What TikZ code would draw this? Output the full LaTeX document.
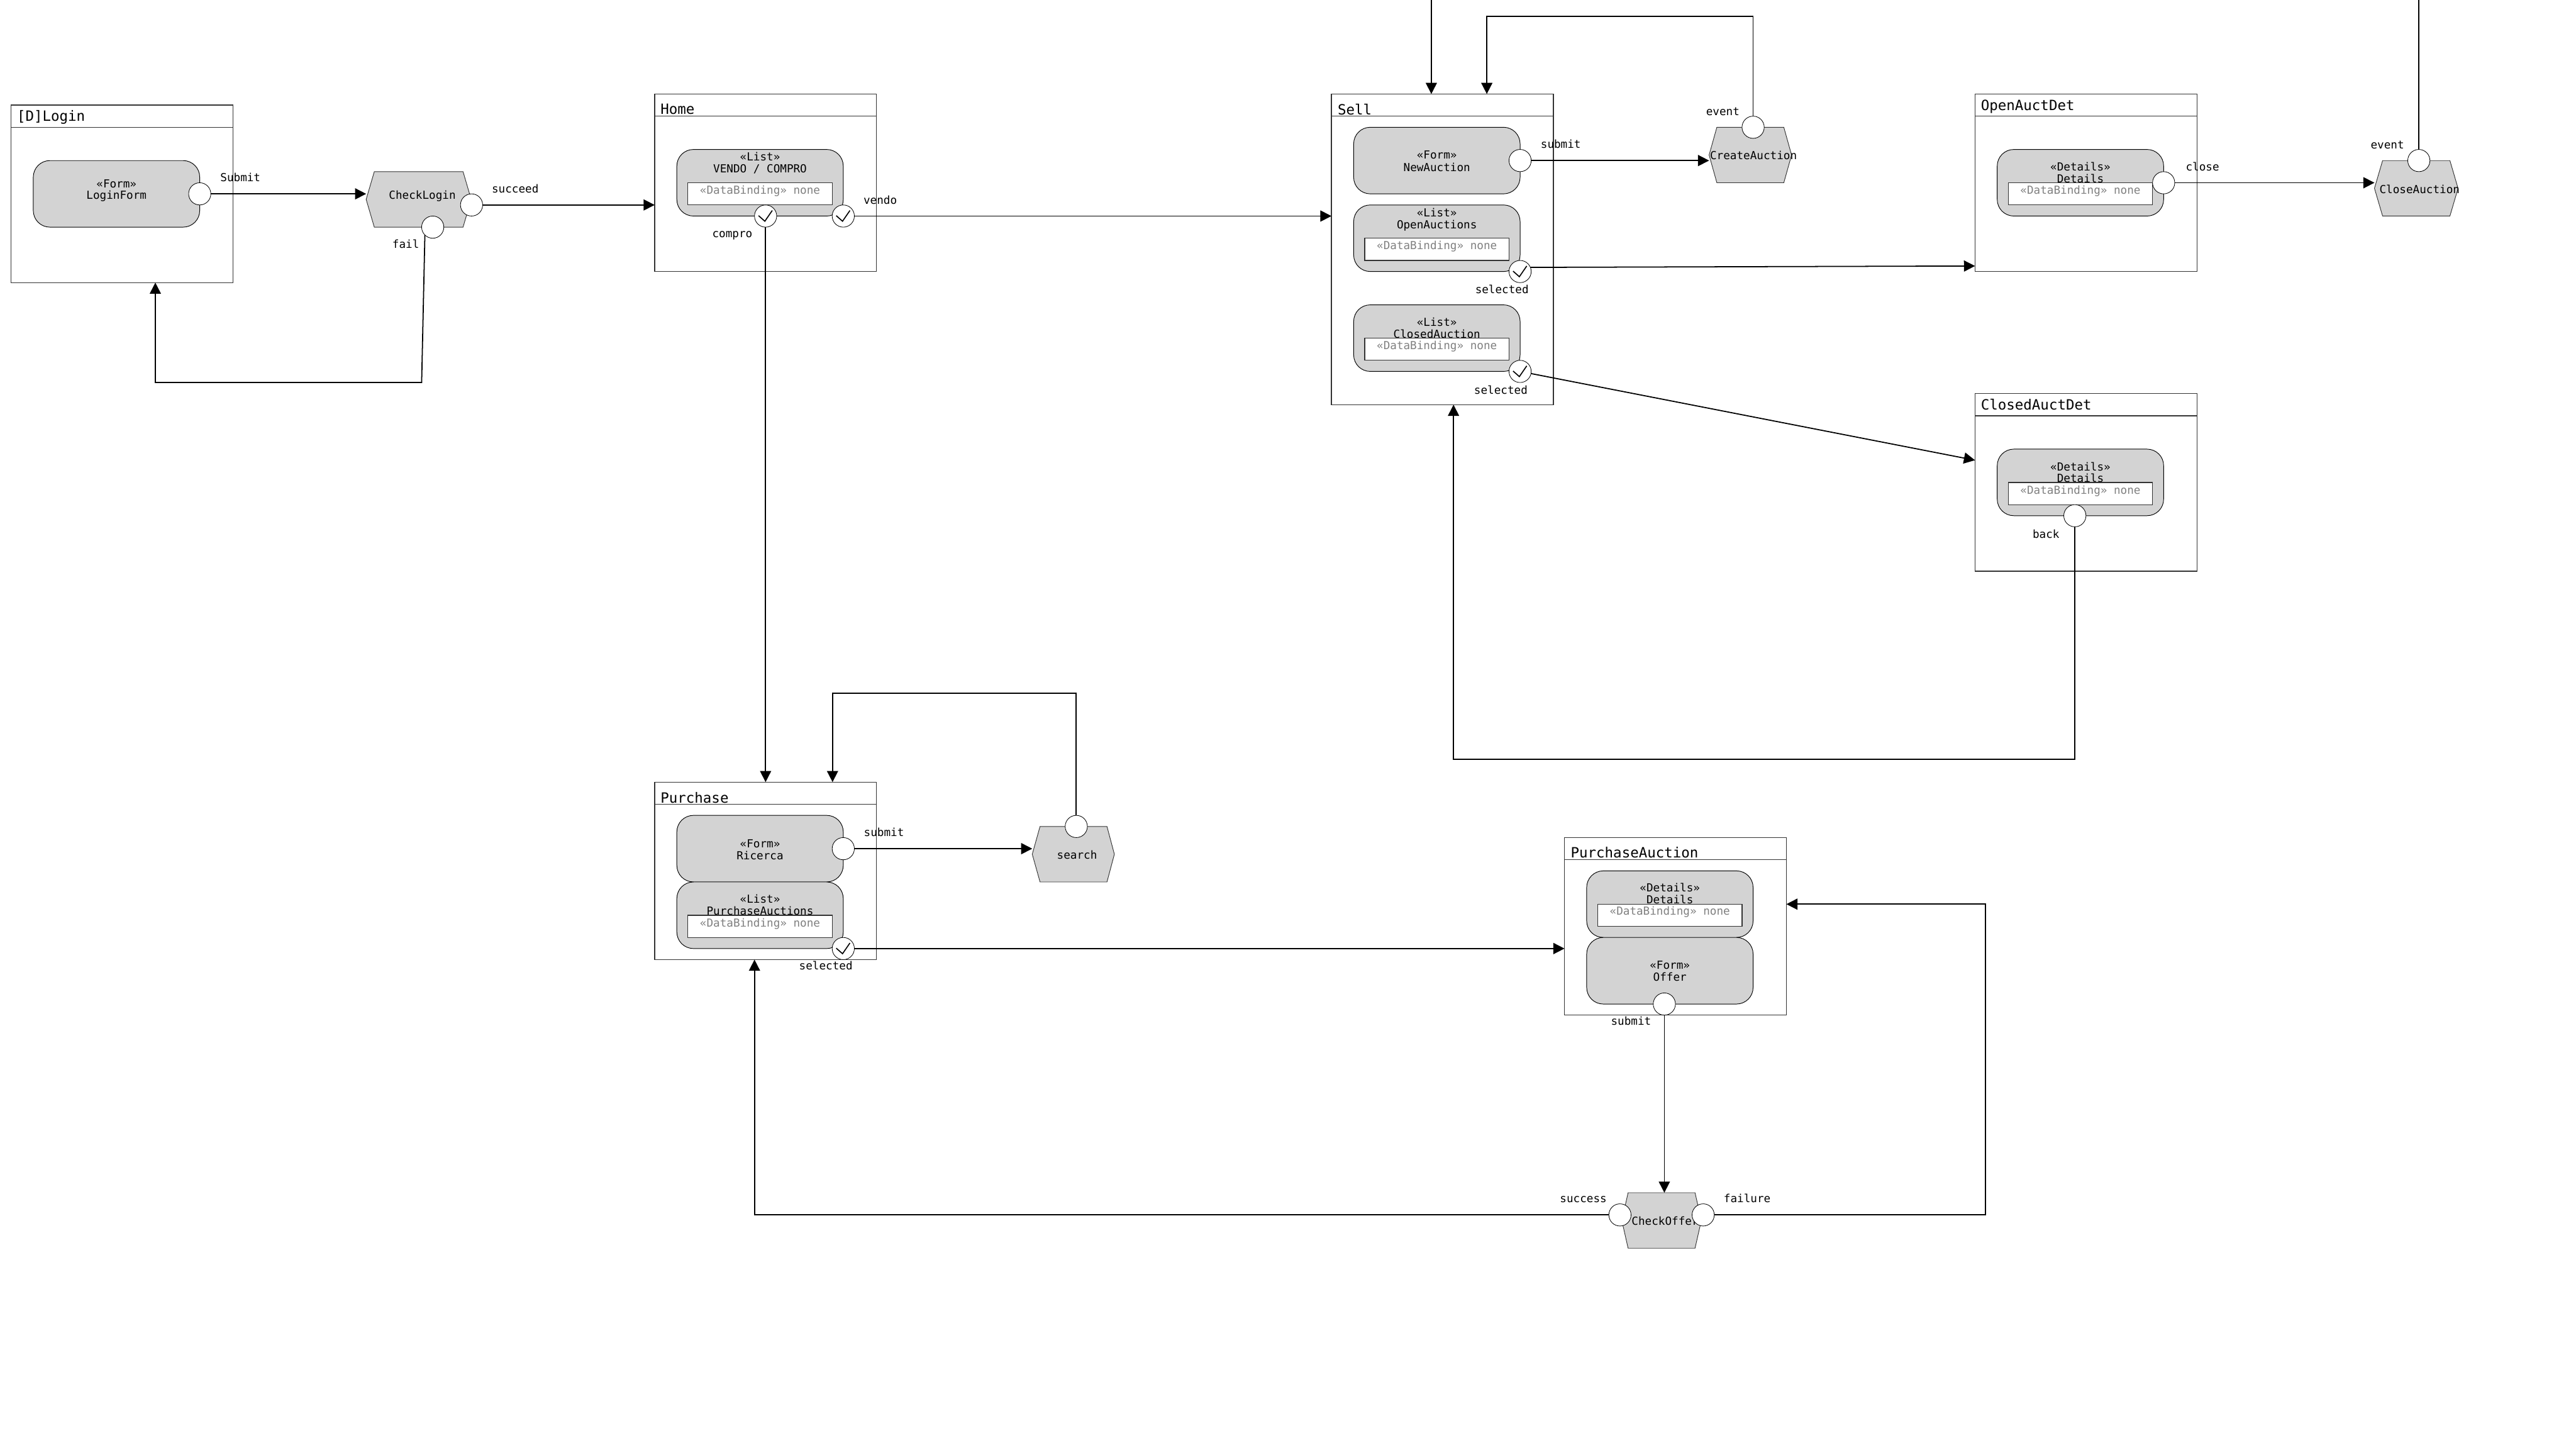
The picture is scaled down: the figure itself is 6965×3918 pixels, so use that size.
\documentclass[tikz,border=0pt]{standalone}
\usepackage{fontspec}
\newfontfamily\dmono{DejaVu Sans Mono}
\usetikzlibrary{arrows.meta}
\definecolor{compgray}{HTML}{D3D3D3}
\definecolor{dbgray}{HTML}{808080}
\definecolor{boxline}{HTML}{333333}
\tikzset{
  boxnode/.style={rectangle,draw=boxline,line width=0.55pt,fill=white,inner sep=0pt,outer sep=0pt},
  hdrline/.style={draw=boxline,line width=0.55pt},
  invisible/.style={rectangle,inner sep=0pt,outer sep=0pt},
  compshape/.style={draw=black,line width=0.4pt,fill=compgray},
  hexshape/.style={draw=boxline,line width=0.4pt,fill=compgray},
  dbbox/.style={rectangle,draw=boxline,line width=0.55pt,fill=white,inner sep=0pt,outer sep=0pt},
  port/.style={circle,draw=black,line width=0.35pt,fill=white,minimum size=15pt,inner sep=0pt,outer sep=0pt},
  tickmark/.style={draw=black,line width=0.7pt},
  conn/.style={draw=black,line width=0.75pt,-{Triangle[length=7.5pt,width=7.5pt]}},
  connplain/.style={draw=black,line width=0.75pt},
  txt/.style={font=\dmono\fontsize{7.5}{9}\selectfont,text=black,inner sep=0pt,outer sep=0pt,text height=5.6pt,text depth=1.4pt,yshift=-0.4pt},
  dbtxt/.style={txt,text=dbgray},
  ttl/.style={font=\dmono\fontsize{9.55}{11}\selectfont,text=black,inner sep=0pt,outer sep=0pt,anchor=west,text height=7pt,text depth=1.8pt,yshift=-0.9pt},
}
% \pagebox{name}{x}{y}{w}{h}{header}
\newcommand{\pagebox}[6]{%
  \node[boxnode,minimum width=#4*0.25pt,minimum height=#5*0.25pt] (#1) at ({#2+#4/2},{#3+#5/2}) {};
  \draw[hdrline] (#2,{#3+#6}) -- ({#2+#4},{#3+#6});
}
% \comp{name}{x1}{y1}{x2}{y2}
\newcommand{\comp}[5]{%
  \draw[compshape] ({#2+45},#3) -- ({#4-45},#3)
    .. controls ({#4-20},#3) and (#4,{#3+20}) .. (#4,{#3+45})
    -- (#4,{#5-45})
    .. controls (#4,{#5-20}) and ({#4-20},#5) .. ({#4-45},#5)
    -- ({#2+45},#5)
    .. controls ({#2+20},#5) and (#2,{#5-20}) .. (#2,{#5-45})
    -- (#2,{#3+45})
    .. controls (#2,{#3+20}) and ({#2+20},#3) .. ({#2+45},#3) -- cycle;
  \node[invisible,minimum width={(#4-#2)*0.25pt},minimum height={(#5-#3)*0.25pt}] (#1) at ({(#2+#4)/2},{(#3+#5)/2}) {};
}
% \hexn{name}{xl}{xtl}{xtr}{xr}{ytop}{ymid}{ybot}
\newcommand{\hexn}[8]{%
  \draw[hexshape] (#3,#6) -- (#4,#6) -- (#5,#7) -- (#4,#8) -- (#3,#8) -- (#2,#7) -- cycle;
  \node[invisible,minimum width={(#5-#2)*0.25pt},minimum height={(#8-#6)*0.25pt}] (#1) at ({(#2+#5)/2},{(#6+#8)/2}) {};
}
% \dbn{name}{x1}{y1}{x2}{y2}
\newcommand{\dbn}[5]{%
  \node[dbbox,minimum width={(#4-#2)*0.25pt},minimum height={(#5-#3)*0.25pt}] (#1) at ({(#2+#4)/2},{(#3+#5)/2}) {};
}
\newcommand{\tick}[1]{\draw[tickmark,shift={(#1)}] (-19,-1) -- (-2,14) -- (18,-15);}
\begin{document}
\begin{tikzpicture}[x=0.25pt,y=-0.25pt]
\useasboundingbox[fill=white] (0,0) rectangle (6965,3918);

% ---- page boxes
\pagebox{login}{30}{284}{600}{480}{60}
\pagebox{home}{1770}{254}{600}{480}{60}
\pagebox{sell}{3600}{254}{600}{840}{60}
\pagebox{openDet}{5340}{254}{600}{480}{60}
\pagebox{closedDet}{5340}{1064}{600}{480}{60}
\pagebox{purchase}{1770}{2114}{600}{480}{60}
\pagebox{purchAuct}{4230}{2264}{600}{480}{60}

\node[ttl] (tLogin) at (46,314) {[D]Login};
\node[ttl] (tHome) at (1786,295) {Home};
\node[ttl] (tSell) at (3617,296) {Sell};
\node[ttl] (tOpenDet) at (5356,284) {OpenAuctDet};
\node[ttl] (tClosedDet) at (5356,1094) {ClosedAuctDet};
\node[ttl] (tPurchase) at (1786,2156) {Purchase};
\node[ttl] (tPurchAuct) at (4247,2305) {PurchaseAuction};

% ---- components
\comp{loginForm}{90}{434}{540}{614}
\node[txt] (a1) at (315,497) {«Form»};
\node[txt] (a2) at (315,529) {LoginForm};

\comp{vendoCompro}{1830}{404}{2280}{584}
\node[txt] (b1) at (2055,425) {«List»};
\node[txt] (b2) at (2055,457) {VENDO / COMPRO};
\dbn{b3}{1860}{494}{2250}{554}
\node[dbtxt] (b4) at (2055,515) {«DataBinding» none};

\comp{newAuction}{3660}{344}{4110}{524}
\node[txt] (c1) at (3885,420) {«Form»};
\node[txt] (c2) at (3885,453) {NewAuction};

\comp{openAuctions}{3660}{554}{4110}{734}
\node[txt] (d1) at (3885,575) {«List»};
\node[txt] (d2) at (3885,608) {OpenAuctions};
\dbn{d3}{3690}{644}{4080}{704}
\node[dbtxt] (d4) at (3885,665) {«DataBinding» none};

\comp{closedAuction}{3660}{824}{4110}{1004}
\node[txt] (e1) at (3885,871) {«List»};
\node[txt] (e2) at (3885,904) {ClosedAuction};
\dbn{e3}{3690}{914}{4080}{974}
\node[dbtxt] (e4) at (3885,935) {«DataBinding» none};

\comp{openDetails}{5400}{404}{5850}{584}
\node[txt] (f1) at (5625,452) {«Details»};
\node[txt] (f2) at (5625,484) {Details};
\dbn{f3}{5430}{494}{5820}{554}
\node[dbtxt] (f4) at (5625,515) {«DataBinding» none};

\comp{closedDetails}{5400}{1214}{5850}{1394}
\node[txt] (g1) at (5625,1262) {«Details»};
\node[txt] (g2) at (5625,1294) {Details};
\dbn{g3}{5430}{1304}{5820}{1364}
\node[dbtxt] (g4) at (5625,1325) {«DataBinding» none};

\comp{ricerca}{1830}{2204}{2280}{2384}
\node[txt] (h1) at (2055,2281) {«Form»};
\node[txt] (h2) at (2055,2313) {Ricerca};

\comp{purchAuctions}{1830}{2384}{2280}{2564}
\node[txt] (i1) at (2055,2431) {«List»};
\node[txt] (i2) at (2055,2464) {PurchaseAuctions};
\dbn{i3}{1860}{2474}{2250}{2534}
\node[dbtxt] (i4) at (2055,2495) {«DataBinding» none};

\comp{auctDetails}{4290}{2354}{4740}{2534}
\node[txt] (j1) at (4515,2400) {«Details»};
\node[txt] (j2) at (4515,2433) {Details};
\dbn{j3}{4320}{2444}{4710}{2504}
\node[dbtxt] (j4) at (4515,2464) {«DataBinding» none};

\comp{offer}{4290}{2534}{4740}{2714}
\node[txt] (k1) at (4515,2609) {«Form»};
\node[txt] (k2) at (4515,2642) {Offer};

% ---- operations
\hexn{checkLogin}{990}{1012}{1252}{1274}{464}{539}{614}
\node[txt] (l1) at (1142,529) {CheckLogin};
\hexn{createAuct}{4621}{4642}{4823}{4844}{344}{419}{494}
\node[txt] (l2) at (4741,421) {CreateAuction};
\hexn{closeAuct}{6420}{6442}{6624}{6646}{434}{509}{584}
\node[txt] (l3) at (6542,513) {CloseAuction};
\hexn{search}{2791}{2812}{2993}{3013}{2234}{2309}{2384}
\node[txt] (l4) at (2912,2312) {search};
\hexn{checkOffer}{4385}{4402}{4583}{4600}{3224}{3299}{3374}
\node[txt] (l5) at (4502,3301) {CheckOffer};

% ---- ports
\node[port] (pSubmit) at (540,524) {};
\node[port] (pSucceed) at (1275,554) {};
\node[port] (pFail) at (1170,614) {};
\node[port] (pCompro) at (2070,584) {};
\node[port] (pVendo) at (2280,584) {};
\node[port] (pNew) at (4110,434) {};
\node[port] (pOpenSel) at (4110,734) {};
\node[port] (pClosedSel) at (4110,1004) {};
\node[port] (pCreate) at (4740,344) {};
\node[port] (pClose) at (5850,494) {};
\node[port] (pCloseEvt) at (6540,434) {};
\node[port] (pBack) at (5610,1394) {};
\node[port] (pRicerca) at (2280,2294) {};
\node[port] (pPurchSel) at (2280,2564) {};
\node[port] (pSearch) at (2910,2234) {};
\node[port] (pOffer) at (4500,2714) {};
\node[port] (pSuccess) at (4380,3284) {};
\node[port] (pFailure) at (4605,3284) {};

\tick{pCompro}
\tick{pVendo}
\tick{pOpenSel}
\tick{pClosedSel}
\tick{pPurchSel}

% ---- free connector points
\coordinate (wFailA) at (1140,1034);
\coordinate (wFailB) at (420,1034);
\coordinate (wTopA) at (3870,0);
\coordinate (wCreateA) at (4740,44);
\coordinate (wCreateB) at (4020,44);
\coordinate (wOpenTip) at (5340,719);
\coordinate (wClosedTip) at (5340,1244);
\coordinate (wTopB) at (6540,0);
\coordinate (wBackA) at (5610,2052);
\coordinate (wBackB) at (3930,2052);
\coordinate (wSearchA) at (2910,1874);
\coordinate (wSearchB) at (2251,1874);
\coordinate (wSuccA) at (2040,3284);
\coordinate (wFailureA) at (5368,3284);
\coordinate (wFailureB) at (5368,2444);

% ---- connectors
\draw[conn] (pSubmit) -- (checkLogin.west |- pSubmit);
\draw[conn] (pSucceed) -- (home.west |- pSucceed);
\draw[conn] (pFail.south west) -- (wFailA) -- (wFailB) -- (login.south -| wFailB);
\draw[conn] (pVendo) -- (sell.west |- pVendo);
\draw[conn] (pCompro) -- (purchase.north -| pCompro);
\draw[conn] (pNew) -- (createAuct.west |- pNew);
\draw[conn] (wTopA) -- (sell.north -| wTopA);
\draw[conn] (pCreate) -- (wCreateA) -- (wCreateB) -- (sell.north -| wCreateB);
\draw[conn] (pOpenSel.22) -- (wOpenTip);
\draw[conn] (pClosedSel) -- (wClosedTip);
\draw[conn] (pClose) -- (closeAuct.west |- pClose);
\draw[connplain] (pCloseEvt) -- (wTopB);
\draw[conn] (pBack) -- (wBackA) -- (wBackB) -- (sell.south -| wBackB);
\draw[conn] (pRicerca) -- (search.west |- pRicerca);
\draw[conn] (pSearch) -- (wSearchA) -- (wSearchB) -- (purchase.north -| wSearchB);
\draw[conn] (pPurchSel) -- (purchAuct.west |- pPurchSel);
\draw[conn] (pOffer) -- (checkOffer.north -| pOffer);
\draw[conn] (pSuccess) -- (wSuccA) -- (purchase.south -| wSuccA);
\draw[conn] (pFailure) -- (wFailureA) -- (wFailureB) -- (purchAuct.east |- wFailureB);

% ---- connector labels
\node[txt] (m1) at (650,481) {Submit};
\node[txt] (m2) at (1097,660) {fail};
\node[txt] (m3) at (1393,511) {succeed};
\node[txt] (m4) at (1980,632) {compro};
\node[txt] (m5) at (2380,541) {vendo};
\node[txt] (m6) at (4220,391) {submit};
\node[txt] (m7) at (4658,302) {event};
\node[txt] (m8) at (4061,783) {selected};
\node[txt] (m9) at (4058,1056) {selected};
\node[txt] (m10) at (5955,452) {close};
\node[txt] (m11) at (6455,392) {event};
\node[txt] (m12) at (5532,1444) {back};
\node[txt] (m13) at (2390,2251) {submit};
\node[txt] (m14) at (2233,2612) {selected};
\node[txt] (m15) at (4410,2761) {submit};
\node[txt] (m16) at (4281,3240) {success};
\node[txt] (m17) at (4724,3240) {failure};
\end{tikzpicture}
\end{document}
